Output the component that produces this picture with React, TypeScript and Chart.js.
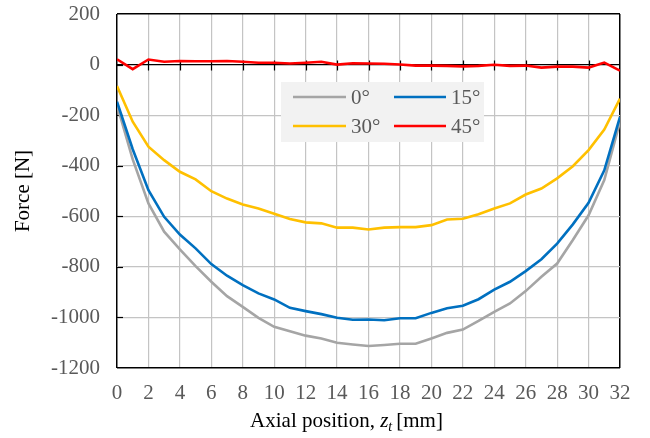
import React, { useEffect, useRef } from "react";
import { Chart, registerables } from "chart.js";

Chart.register(...registerables);

const positions = [0, 1, 2, 3, 4, 5, 6, 7, 8, 9, 10, 11, 12, 13, 14, 15, 16, 17, 18, 19, 20, 21, 22, 23, 24, 25, 26, 27, 28, 29, 30, 31, 32];

const force0 = [-160, -375, -549, -661, -731, -797, -859, -916, -958, -1002, -1037, -1055, -1072, -1083, -1100, -1107, -1113, -1109, -1104, -1104, -1083, -1061, -1048, -1014, -978, -945, -896, -839, -787, -694, -596, -457, -226];
const force15 = [-147, -335, -497, -602, -672, -727, -789, -835, -872, -905, -929, -962, -975, -987, -1001, -1009, -1008, -1011, -1003, -1003, -982, -964, -954, -928, -890, -859, -817, -770, -708, -632, -547, -418, -207];
const force30 = [-85, -226, -325, -378, -424, -454, -501, -530, -553, -569, -590, -611, -624, -628, -645, -645, -652, -645, -643, -643, -635, -613, -610, -592, -569, -549, -514, -490, -450, -402, -338, -257, -135];
const force45 = [21, -18, 20, 11, 14, 13, 13, 14, 11, 7, 7, 4, 7, 11, 0, 5, 4, 3, 0, -4, -4, -5, -7, -5, -1, -5, -4, -12, -8, -8, -12, 8, -24];

const seriesLabels = ["0°", "15°", "30°", "45°"];
const seriesColors = ["#a5a5a5", "#0070c0", "#ffc000", "#ff0000"];

const xTitleParts = ["Axial position, ", "z", "t", "[mm]"];
const yTitle = "Force [N]";

const FONT = "'Liberation Serif', 'Times New Roman', serif";

const decorPlugin = {
  id: "decor",
  beforeDatasetsDraw(chart: any) {
    const { ctx, chartArea, scales } = chart;
    const xs = scales.x;
    const ys = scales.y;
    ctx.save();
    ctx.strokeStyle = "#000";
    ctx.lineWidth = 1.2;
    const y0 = Math.round(ys.getPixelForValue(0)) + 0.5;
    for (let v = 2; v < 32; v += 2) {
      const px = Math.round(xs.getPixelForValue(v)) + 0.5;
      ctx.beginPath();
      ctx.moveTo(px, y0 - 5);
      ctx.lineTo(px, y0 + 5);
      ctx.stroke();
    }
    for (let v = -1000; v <= 0; v += 200) {
      const py = Math.round(ys.getPixelForValue(v)) + 0.5;
      ctx.beginPath();
      ctx.moveTo(chartArea.left, py);
      ctx.lineTo(chartArea.left + 6, py);
      ctx.stroke();
    }
    ctx.restore();
  },
  afterDraw(chart: any) {
    const { ctx, chartArea } = chart;
    ctx.save();
    // legend
    const bx = chartArea.left + 164;
    const by = chartArea.top + 68;
    ctx.fillStyle = "#f2f2f2";
    ctx.fillRect(bx, by, 203, 60);
    const cols = [
      { l: chartArea.left + 176, r: chartArea.left + 229, t: chartArea.left + 234 },
      { l: chartArea.left + 277, r: chartArea.left + 329, t: chartArea.left + 334 },
    ];
    const rows = [chartArea.top + 83, chartArea.top + 112];
    ctx.font = `21px ${FONT}`;
    ctx.textBaseline = "middle";
    ctx.textAlign = "left";
    chart.data.datasets.forEach((ds: any, i: number) => {
      const c = cols[i % 2];
      const ry = rows[Math.floor(i / 2)];
      ctx.strokeStyle = ds.borderColor;
      ctx.lineWidth = 2.6;
      ctx.beginPath();
      ctx.moveTo(c.l, ry);
      ctx.lineTo(c.r, ry);
      ctx.stroke();
      ctx.fillStyle = "#595959";
      ctx.fillText(ds.label, c.t, ry + 1);
    });
    // x title with italic z and subscript t
    const normal = `21px ${FONT}`;
    const italic = `italic 21px ${FONT}`;
    const sub = `italic 14px ${FONT}`;
    ctx.font = normal;
    const w1 = ctx.measureText(xTitleParts[0]).width;
    const w4 = ctx.measureText(xTitleParts[3]).width;
    ctx.font = italic;
    const w2 = ctx.measureText(xTitleParts[1]).width;
    ctx.font = sub;
    const w3 = ctx.measureText(xTitleParts[2]).width + 4;
    const total = w1 + w2 + w3 + w4;
    const cx = (chartArea.left + chartArea.right) / 2 - 22;
    let x = cx - total / 2;
    const base = chart.height - 11;
    ctx.fillStyle = "#000";
    ctx.textBaseline = "alphabetic";
    ctx.font = normal;
    ctx.fillText(xTitleParts[0], x, base);
    x += w1;
    ctx.font = italic;
    ctx.fillText(xTitleParts[1], x, base);
    x += w2;
    ctx.font = sub;
    ctx.fillText(xTitleParts[2], x, base + 4);
    x += w3;
    ctx.font = normal;
    ctx.fillText(xTitleParts[3], x, base);
    ctx.restore();
  },
};

export default function App() {
  const ref = useRef<HTMLCanvasElement>(null);
  useEffect(() => {
    if (!ref.current) return;
    const allSeries = [force0, force15, force30, force45];
    const chart = new Chart(ref.current, {
      type: "line",
      data: {
        datasets: allSeries.map((s, i) => ({
          label: seriesLabels[i],
          data: s.map((v, j) => ({ x: positions[j], y: v })),
          borderColor: seriesColors[i],
          backgroundColor: seriesColors[i],
          borderWidth: 2.6,
          pointRadius: 0,
          tension: 0,
          fill: false,
          order: 3 - i,
        })),
      },
      options: {
        responsive: false,
        animation: false,
        layout: { padding: { top: 0, right: 30, left: 0, bottom: 0 } },
        plugins: { legend: { display: false }, tooltip: { enabled: false } },
        scales: {
          x: {
            type: "linear",
            min: 0,
            max: 32,
            afterFit: (s: any) => {
              s.height = 70;
            },
            ticks: {
              stepSize: 2,
              color: "#595959",
              font: { family: FONT, size: 21 },
              padding: 13,
              maxRotation: 0,
              autoSkip: false,
            },
            grid: {
              drawTicks: false,
              color: (c: any) => (c.tick && (c.tick.value === 0 || c.tick.value === 32) ? "#000" : "#c4c4c4"),
              lineWidth: (c: any) => (c.tick && (c.tick.value === 0 || c.tick.value === 32) ? 1.5 : 1.2),
            },
            border: { display: false },
          },
          y: {
            min: -1200,
            max: 200,
            afterFit: (s: any) => {
              s.width = 117;
              s.paddingTop = 14;
              s.paddingBottom = 0;
            },
            ticks: {
              stepSize: 200,
              color: "#595959",
              font: { family: FONT, size: 21 },
              padding: 17,
              callback: (v: any) => String(v),
            },
            grid: {
              drawTicks: false,
              color: (c: any) =>
                c.tick && (c.tick.value === 0 || c.tick.value === 200 || c.tick.value === -1200) ? "#000" : "#c4c4c4",
              lineWidth: (c: any) =>
                c.tick && (c.tick.value === 200 || c.tick.value === -1200) ? 1.5 : 1.2,
            },
            border: { display: false },
            title: {
              display: true,
              text: yTitle,
              color: "#000",
              font: { family: FONT, size: 21 },
              padding: { top: 11, bottom: 0 },
            },
          },
        },
      },
      plugins: [decorPlugin],
    });
    return () => chart.destroy();
  }, []);
  return (
    <div style={{ position: "absolute", left: 0, top: 0, width: 650, height: 438, background: "#fff" }}>
      <canvas ref={ref} width={650} height={438} />
    </div>
  );
}
